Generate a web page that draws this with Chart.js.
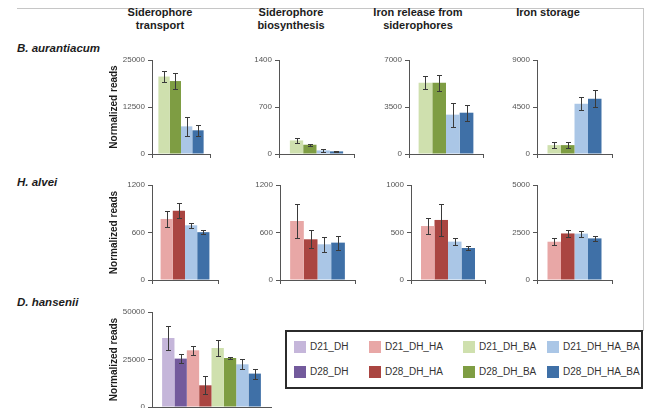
<!DOCTYPE html>
<html>
<head>
<meta charset="utf-8">
<script src="https://cdn.jsdelivr.net/npm/chart.js@4.4.1/dist/chart.umd.min.js"></script>
<style>
  html, body { margin: 0; padding: 0; background: #fff; width: 646px; height: 408px; overflow: hidden;
               font-family: "Liberation Sans", Arial, sans-serif; }
  .rule-top { position: absolute; left: 17px; top: 8px; width: 627px; height: 1px; background: #c6c6c6; }
  .rule-right { position: absolute; left: 643px; top: 8px; width: 1px; height: 323px; background: #c6c6c6; }
  .col-title { position: absolute; width: 130px; font-weight: bold; font-size: 11px; line-height: 13.3px;
               text-align: center; color: #1c1c1c; }
  .row-label { position: absolute; left: 17px; font-weight: bold; font-style: italic; font-size: 11.5px;
               line-height: 13.3px; color: #1c1c1c; white-space: nowrap; }
  canvas { position: absolute; }
  .legend { position: absolute; left: 285px; top: 330px; width: 354px; height: 55px; border: 2px solid #2b2b2b; }
  .legend .sw { position: absolute; width: 12px; height: 12px; }
  .legend .lbl { position: absolute; font-size: 10px; line-height: 12px; color: #333; white-space: nowrap; }
</style>
</head>
<body>
<div class="rule-top"></div>
<div class="rule-right"></div>
<div id="root"></div>
<div class="legend" id="legend"></div>
<script>
// ---- series and function names ----
const seriesNames = ['D21_DH', 'D28_DH', 'D21_DH_HA', 'D28_DH_HA', 'D21_DH_BA', 'D28_DH_BA', 'D21_DH_HA_BA', 'D28_DH_HA_BA'];
const seriesColors = ['#c5b6da', '#735a9c', '#e8a7a6', '#aa4541', '#cfe0ae', '#7e9d43', '#aac6e6', '#3f70a7'];
const functionTitles = ['Siderophore\ntransport', 'Siderophore\nbiosynthesis', 'Iron release from\nsiderophores', 'Iron storage'];
const organisms = ['B. aurantiacum', 'H. alvei', 'D. hansenii'];

// ---- B. aurantiacum ----
const baSeries = ['D21_DH_BA', 'D28_DH_BA', 'D21_DH_HA_BA', 'D28_DH_HA_BA'];
const baTransport = [20600, 19400, 7350, 6300];
const baTransportErr = [1450, 2100, 2600, 1400];
const baBiosynthesis = [202, 138, 53, 39];
const baBiosynthesisErr = [37, 18, 22, 8];
const baRelease = [5300, 5300, 2930, 3075];
const baReleaseErr = [480, 590, 890, 590];
const baStorage = [850, 850, 4810, 5290];
const baStorageErr = [290, 290, 635, 795];
const baAxisMax = [25000, 1400, 7000, 9000];

// ---- H. alvei ----
const haSeries = ['D21_DH_HA', 'D28_DH_HA', 'D21_DH_HA_BA', 'D28_DH_HA_BA'];
const haTransport = [771, 875, 691, 604];
const haTransportErr = [104, 94, 31, 27];
const haBiosynthesis = [745, 514, 451, 472];
const haBiosynthesisErr = [217, 116, 97, 88];
const haRelease = [568, 632, 404, 337];
const haReleaseErr = [88, 172, 33, 23];
const haStorage = [2015, 2450, 2440, 2190];
const haStorageErr = [174, 174, 160, 130];
const haAxisMax = [1200, 1200, 1000, 5000];

// ---- D. hansenii ----
const dhSeries = seriesNames;
const dhTransport = [36300, 25470, 29840, 11420, 31050, 25790, 22470, 17580];
const dhTransportErr = [6400, 2450, 2270, 4740, 4400, 500, 2630, 2630];
const dhAxisMax = [50000];

const yTitle = 'Normalized reads';
const FONT = '"Liberation Sans", Arial, sans-serif';

// ---- panel placement (plot-area edges in page pixels) ----
const panels = [
  { x0: 152, x1: 210, top: 60,  h: 94, cp: 0.78, series: baSeries, values: baTransport,    errors: baTransportErr,    max: baAxisMax[0], title: true },
  { x0: 279, x1: 354, top: 60,  h: 94, cp: 0.71, series: baSeries, values: baBiosynthesis, errors: baBiosynthesisErr, max: baAxisMax[1] },
  { x0: 409, x1: 483, top: 60,  h: 94, cp: 0.74, series: baSeries, values: baRelease,      errors: baReleaseErr,      max: baAxisMax[2] },
  { x0: 537, x1: 612, top: 60,  h: 94, cp: 0.72, series: baSeries, values: baStorage,      errors: baStorageErr,      max: baAxisMax[3] },
  { x0: 152, x1: 218, top: 185, h: 95, cp: 0.74, series: haSeries, values: haTransport,    errors: haTransportErr,    max: haAxisMax[0], title: true },
  { x0: 280, x1: 355, top: 185, h: 95, cp: 0.73, series: haSeries, values: haBiosynthesis, errors: haBiosynthesisErr, max: haAxisMax[1] },
  { x0: 411, x1: 485, top: 185, h: 95, cp: 0.73, series: haSeries, values: haRelease,      errors: haReleaseErr,      max: haAxisMax[2] },
  { x0: 537, x1: 612, top: 185, h: 95, cp: 0.72, series: haSeries, values: haStorage,      errors: haStorageErr,      max: haAxisMax[3] },
  { x0: 152, x1: 271, top: 312, h: 95, cp: 0.83, series: dhSeries, values: dhTransport,    errors: dhTransportErr,    max: dhAxisMax[0], title: true }
];
const titleCenters = [160, 291, 418, 548];
const rowLabelTops = [42, 175.5, 295.5];

const colorOf = name => seriesColors[seriesNames.indexOf(name)];

// error bars: mean ± deviation, drawn on top of the bars
const errorBars = {
  id: 'errorBars',
  afterDatasetsDraw(chart) {
    const ctx = chart.ctx, yScale = chart.scales.y;
    ctx.save();
    ctx.strokeStyle = '#3a3a3a';
    ctx.lineWidth = 1;
    chart.data.datasets.forEach((ds, i) => {
      chart.getDatasetMeta(i).data.forEach((bar, j) => {
        const v = ds.data[j], e = ds.err[j];
        const x = Math.round(bar.x) + 0.5;
        const yT = Math.round(yScale.getPixelForValue(v + e)) + 0.5;
        const yB = Math.round(yScale.getPixelForValue(v - e)) + 0.5;
        ctx.beginPath();
        ctx.moveTo(x, yT); ctx.lineTo(x, yB);
        ctx.moveTo(x - 2.5, yT); ctx.lineTo(x + 2.5, yT);
        ctx.moveTo(x - 2.5, yB); ctx.lineTo(x + 2.5, yB);
        ctx.stroke();
      });
    });
    ctx.restore();
  }
};

const Y_W = 44, PAD_T = 8, X_H = 6, PAD_B = 2, PAD_R = 6;
const root = document.getElementById('root');

panels.forEach(p => {
  const canvas = document.createElement('canvas');
  const w = Y_W + (p.x1 - p.x0) + PAD_R;
  const h = PAD_T + p.h + X_H + PAD_B;
  canvas.width = w; canvas.height = h;
  canvas.style.width = w + 'px'; canvas.style.height = h + 'px';
  canvas.style.left = (p.x0 - Y_W) + 'px';
  canvas.style.top = (p.top - PAD_T) + 'px';
  root.appendChild(canvas);

  new Chart(canvas, {
    type: 'bar',
    data: {
      labels: [''],
      datasets: p.series.map((s, i) => ({
        label: s,
        data: [p.values[i]],
        err: [p.errors[i]],
        backgroundColor: colorOf(s),
        borderWidth: 0,
        barPercentage: 1,
        categoryPercentage: p.cp
      }))
    },
    options: {
      responsive: false,
      animation: false,
      devicePixelRatio: 1,
      layout: { padding: { top: PAD_T, bottom: PAD_B, left: 0, right: PAD_R } },
      plugins: { legend: { display: false }, tooltip: { enabled: false } },
      scales: {
        x: {
          offset: true,
          ticks: { display: false },
          grid: { display: true, offset: true, drawOnChartArea: false, drawTicks: true, tickLength: 4, color: '#555' },
          border: { display: true, color: '#555', width: 1 },
          afterFit: s => { s.height = X_H; }
        },
        y: {
          min: 0, max: p.max,
          ticks: { stepSize: p.max / 2, color: '#555', padding: 3, font: { size: 8, family: FONT },
                   callback: v => String(v) },
          grid: { drawOnChartArea: false, tickLength: 4, color: '#555' },
          border: { display: true, color: '#555', width: 1 },
          title: { display: !!p.title, text: yTitle, color: '#1c1c1c',
                   font: { size: 10, weight: 'bold', family: FONT }, padding: { top: 0, bottom: 0 } },
          afterFit: s => { s.width = Y_W; }
        }
      }
    },
    plugins: [errorBars]
  });
});

// column titles
functionTitles.forEach((t, i) => {
  const d = document.createElement('div');
  d.className = 'col-title';
  d.style.left = (titleCenters[i] - 65) + 'px';
  d.style.top = '6px';
  d.innerHTML = t.replace('\n', '<br>');
  root.appendChild(d);
});

// organism labels
organisms.forEach((o, i) => {
  const d = document.createElement('div');
  d.className = 'row-label';
  d.style.top = rowLabelTops[i] + 'px';
  d.textContent = o;
  root.appendChild(d);
});

// legend: D21 on the top row, D28 below, one column per treatment
const legend = document.getElementById('legend');
const swatchLeft = [7, 82, 176, 260];
seriesNames.forEach((s, i) => {
  const col = Math.floor(i / 2), row = i % 2;
  const top = 9 + row * 25;
  const sw = document.createElement('div');
  sw.className = 'sw';
  sw.style.left = swatchLeft[col] + 'px';
  sw.style.top = top + 'px';
  sw.style.background = seriesColors[i];
  legend.appendChild(sw);
  const lbl = document.createElement('div');
  lbl.className = 'lbl';
  lbl.style.left = (swatchLeft[col] + 16) + 'px';
  lbl.style.top = top + 'px';
  lbl.textContent = s;
  legend.appendChild(lbl);
});
</script>
</body>
</html>
